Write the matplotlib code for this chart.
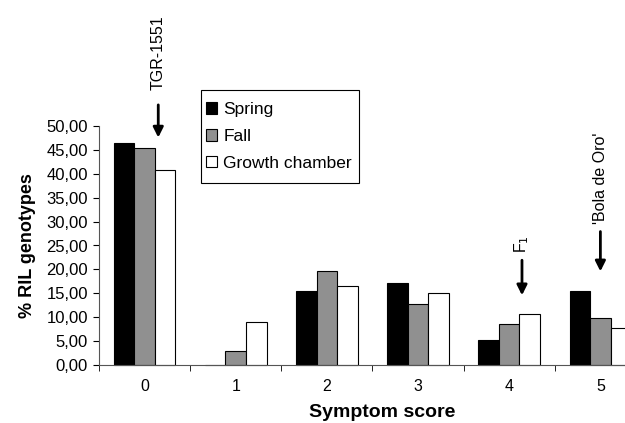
import numpy as np
import matplotlib
matplotlib.use("Agg")
import matplotlib.pyplot as plt
from matplotlib.ticker import FixedLocator
from matplotlib.patches import Rectangle

plt.rcParams['font.family'] = ['Liberation Sans', 'DejaVu Sans']

scores = ["0", "1", "2", "3", "4", "5"]
spring = [46.4, 0.0, 15.4, 17.2, 5.2, 15.5]
fall = [45.5, 2.9, 19.7, 12.8, 8.5, 9.9]
growth = [40.8, 9.1, 16.5, 15.0, 10.6, 7.7]
series_names = ["Spring", "Fall", "Growth chamber"]
yticks = [0, 5, 10, 15, 20, 25, 30, 35, 40, 45, 50]

W, H = 625, 423
fig = plt.figure(figsize=(W/100, H/100), dpi=100)
ax = fig.add_axes([99/W, 58/H, 1 - 99/W, (365-126)/H])

x = np.arange(len(scores))
w = 0.225
colors = ["black", "#909090", "white"]
for i, (vals, name, c) in enumerate(zip([spring, fall, growth], series_names, colors)):
    ax.bar(x + (i - 1) * w, vals, width=w, color=c, edgecolor="black", linewidth=0.8, label=name, clip_on=False)

ax.set_xlim(-0.5, 5.27)
ax.set_ylim(0, 50)
ax.set_yticks(yticks)
ax.set_yticklabels([f"{v:.2f}".replace(".", ",") for v in yticks], fontsize=12)
ax.set_xticks(x)
ax.set_xticklabels(scores, fontsize=11.5)
ax.tick_params(axis='x', length=0, pad=10)
ax.xaxis.set_minor_locator(FixedLocator(np.arange(-0.5, 5.6, 1.0)))
ax.tick_params(axis='x', which='minor', length=4, direction='out')
ax.tick_params(axis='y', length=4, direction='out', pad=4)
ax.spines['top'].set_visible(False)
ax.spines['right'].set_visible(False)
ax.spines['left'].set_color('#555555')
ax.spines['bottom'].set_color('#555555')

ax.set_xlabel("Symptom score", fontsize=14, fontweight='bold')
ax.xaxis.set_label_coords(0.538, -0.165)
ax.set_ylabel("% RIL genotypes", fontsize=13, fontweight='bold', va='center')
ax.yaxis.set_label_coords(-0.135, 0.5)

fs = 12.5
pad_px = 0.7 * fs * 100 / 72
leg = ax.legend(loc='upper left', fontsize=fs, frameon=False,
                handlelength=0.65, handleheight=0.65, handletextpad=0.35, borderpad=0.7,
                labelspacing=0.68, borderaxespad=0)
leg.set_bbox_to_anchor(((206 - pad_px)/W, (H-90)/H), transform=fig.transFigure)
fig.patches.append(Rectangle((201/W, (H-183)/H), (359-201)/W, (183-90)/H, transform=fig.transFigure,
                             facecolor='none', edgecolor='black', linewidth=0.8))

def arrow(xd, y0, y1, label, ty):
    ax.annotate("", xy=(xd, y1), xytext=(xd, y0), annotation_clip=False,
                arrowprops=dict(arrowstyle="-|>,head_length=0.6,head_width=0.3", color="black", lw=2))
    ax.text(xd, ty, label, rotation=90, ha='center', va='bottom', fontsize=11.5, clip_on=False)

arrow(0.15, 55.0, 47.0, "TGR-1551", 57.5)
arrow(4.14, 22.5, 14.0, "F$_1$", 23.5)
arrow(5.0, 28.5, 19.0, "'Bola de Oro'", 29.5)

fig.savefig("out.png", dpi=100)
